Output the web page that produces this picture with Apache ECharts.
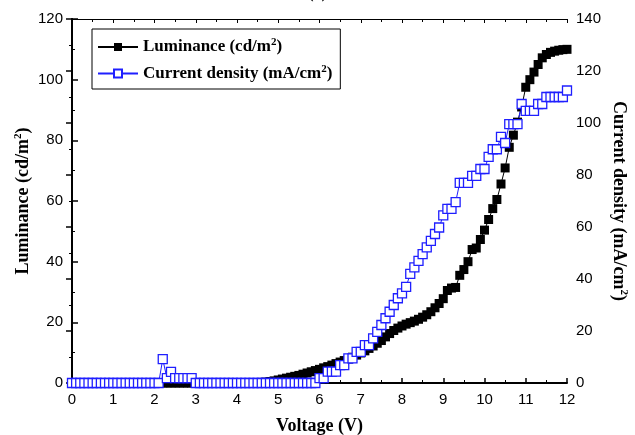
<!DOCTYPE html>
<html>
<head>
<meta charset="utf-8">
<script src="https://cdn.jsdelivr.net/npm/echarts@6/dist/echarts.min.js"></script>
<style>
  html, body { margin: 0; padding: 0; background: #fff; }
  #main { width: 635px; height: 435px; }
</style>
</head>
<body>
<div id="main"></div>
<script>
// voltage steps (V)
const voltage = [
  0.0, 0.1, 0.2, 0.3, 0.4, 0.5, 0.6, 0.7, 0.8, 0.9,
  1.0, 1.1, 1.2, 1.3, 1.4, 1.5, 1.6, 1.7, 1.8, 1.9,
  2.0, 2.1, 2.2, 2.3, 2.4, 2.5, 2.6, 2.7, 2.8, 2.9,
  3.0, 3.1, 3.2, 3.3, 3.4, 3.5, 3.6, 3.7, 3.8, 3.9,
  4.0, 4.1, 4.2, 4.3, 4.4, 4.5, 4.6, 4.7, 4.8, 4.9,
  5.0, 5.1, 5.2, 5.3, 5.4, 5.5, 5.6, 5.7, 5.8, 5.9,
  6.0, 6.1, 6.2, 6.3, 6.4, 6.5, 6.6, 6.7, 6.8, 6.9,
  7.0, 7.1, 7.2, 7.3, 7.4, 7.5, 7.6, 7.7, 7.8, 7.9,
  8.0, 8.1, 8.2, 8.3, 8.4, 8.5, 8.6, 8.7, 8.8, 8.9,
  9.0, 9.1, 9.2, 9.3, 9.4, 9.5, 9.6, 9.7, 9.8, 9.9,
  10.0, 10.1, 10.2, 10.3, 10.4, 10.5, 10.6, 10.7, 10.8, 10.9,
  11.0, 11.1, 11.2, 11.3, 11.4, 11.5, 11.6, 11.7, 11.8, 11.9,
  12.0
];

// luminance (cd/m2), left axis
const luminance = [
  0, 0, 0, 0, 0, 0, 0, 0, 0, 0,
  0, 0, 0, 0, 0, 0, 0, 0, 0, 0,
  0, 0, 0, 0, 0, 0, 0, 0, 0, 0,
  0, 0, 0, 0, 0, 0, 0, 0, 0, 0,
  0, 0, 0, 0, 0, 0.1, 0.2, 0.3, 0.5, 0.7,
  1.0, 1.3, 1.6, 1.9, 2.2, 2.5, 2.9, 3.3, 3.7, 4.1,
  4.5, 5.0, 5.4, 5.9, 6.4, 6.9, 7.4, 7.9, 8.5, 9.2,
  9.9, 10.6, 11.4, 12.2, 13.1, 14.0, 15.2, 16.3, 17.3, 18.1,
  18.8, 19.4, 19.9, 20.4, 21.0, 21.7, 22.5, 23.5, 24.8, 26.2,
  27.8, 30.5, 31.3, 31.5, 35.5, 37.4, 40.0, 44.0, 44.5, 47.3,
  50.4, 53.9, 57.5, 60.5, 65.6, 70.9, 77.7, 81.7, 86.0, 91.0,
  97.5, 100.0, 102.5, 105.0, 107.2, 108.3, 109.0, 109.4, 109.7, 109.9,
  110.0
];

// current density (mA/cm2), right axis
const currentDensity = [
  0, 0, 0, 0, 0, 0, 0, 0, 0, 0,
  0, 0, 0, 0, 0, 0, 0, 0, 0, 0,
  0, 0, 9.2, 1.9, 4.3, 1.9, 1.9, 1.9, 1.9, 1.9,
  0, 0, 0, 0, 0, 0, 0, 0, 0, 0,
  0, 0, 0, 0, 0, 0, 0, 0, 0, 0,
  0, 0, 0, 0, 0, 0, 0, 0, 0, 0,
  1.9, 1.9, 4.4, 4.4, 4.4, 6.9, 6.9, 9.5, 9.5, 12.0,
  12.0, 14.6, 14.6, 17.2, 19.7, 22.3, 24.9, 27.4, 30.0, 32.6,
  34.5, 37.0, 42.0, 44.5, 47.0, 49.6, 52.2, 54.7, 57.3, 59.8,
  64.5, 67.0, 67.0, 69.6, 77.0, 77.0, 77.0, 79.7, 79.7, 82.3,
  82.3, 87.0, 89.9, 89.9, 94.7, 92.3, 99.6, 99.6, 99.6, 107.3,
  104.7, 104.7, 104.7, 107.3, 107.3, 110.0, 110.0, 110.0, 110.0, 110.0,
  112.5
];

const xTicks = { min: 0, max: 12, interval: 1 };
const lumTicks = { min: 0, max: 120, interval: 20 };
const curTicks = { min: 0, max: 140, interval: 20 };

const serif = 'Liberation Serif';
const sans = 'Liberation Sans';
const blue = '#1f1fff';

const chart = echarts.init(document.getElementById('main'));

const supRich = {
  sup: { fontSize: 11, fontFamily: serif, fontWeight: 'bold', padding: [0, 0, 9, 0] }
};
const nameSup = {
  sup: { fontSize: 11, fontFamily: serif, fontWeight: 'bold', padding: [0, 0, 10, 0] }
};

const option = {
  animation: false,
  title: {
    text: '(a)',
    left: 'center',
    top: -19,
    textStyle: { fontFamily: serif, fontSize: 16, fontWeight: 'bold', color: '#000' }
  },
  grid: { left: 72, right: 68, top: 19, bottom: 52, outerBoundsMode: 'none' },
  legend: {
    left: 92,
    top: 29,
    orient: 'vertical',
    itemWidth: 40,
    itemHeight: 10,
    itemGap: 8,
    padding: [8, 8, 7, 5],
    borderColor: '#000',
    borderWidth: 1,
    data: ['Luminance', 'Current density'],
    formatter: function (name) {
      return name === 'Luminance' ? 'Luminance (cd/m{sup|2})' : 'Current density (mA/cm{sup|2})';
    },
    textStyle: { fontFamily: serif, fontSize: 17, fontWeight: 'bold', color: '#000', rich: supRich }
  },
  xAxis: [
    {
      type: 'value',
      min: xTicks.min, max: xTicks.max, interval: xTicks.interval,
      name: 'Voltage (V)',
      nameLocation: 'middle',
      nameGap: 34,
      nameTextStyle: { fontFamily: serif, fontSize: 18, fontWeight: 'bold', color: '#000' },
      axisLine: { show: true, lineStyle: { color: '#000', width: 2 } },
      axisTick: { inside: true, length: 5, lineStyle: { color: '#000', width: 1.5 } },
      minorTick: { show: true, splitNumber: 2, length: 3, lineStyle: { color: '#000' } },
      axisLabel: { fontFamily: sans, fontSize: 15, color: '#000', margin: 9 },
      splitLine: { show: false }
    },
    {
      type: 'value',
      position: 'top',
      min: xTicks.min, max: xTicks.max, interval: xTicks.interval,
      axisLine: { show: true, onZero: false, lineStyle: { color: '#000', width: 1 } },
      axisTick: { inside: true, length: 4, lineStyle: { color: '#000' } },
      minorTick: { show: true, splitNumber: 2, length: 3, lineStyle: { color: '#000' } },
      axisLabel: { show: false },
      splitLine: { show: false }
    }
  ],
  yAxis: [
    {
      type: 'value',
      min: lumTicks.min, max: lumTicks.max, interval: lumTicks.interval,
      name: 'Luminance (cd/m{sup|2})',
      nameLocation: 'middle',
      nameGap: 38,
      nameMoveOverlap: false,
      nameRotate: 90,
      nameTextStyle: { fontFamily: serif, fontSize: 18, fontWeight: 'bold', color: '#000', rich: nameSup },
      axisLine: { show: true, lineStyle: { color: '#000', width: 2 } },
      axisTick: { inside: true, length: 6, lineStyle: { color: '#000', width: 1.5 } },
      minorTick: { show: true, splitNumber: 2, length: 3, lineStyle: { color: '#000' } },
      axisLabel: { fontFamily: sans, fontSize: 15, color: '#000', margin: 9 },
      splitLine: { show: false }
    },
    {
      type: 'value',
      position: 'right',
      min: curTicks.min, max: curTicks.max, interval: curTicks.interval,
      name: 'Current density (mA/cm{sup|2})',
      nameLocation: 'middle',
      nameGap: 41,
      nameMoveOverlap: false,
      nameRotate: -90,
      nameTextStyle: { fontFamily: serif, fontSize: 18, fontWeight: 'bold', color: '#000', rich: nameSup },
      axisLine: { show: true, lineStyle: { color: '#000', width: 2 } },
      axisTick: { inside: true, length: 6, lineStyle: { color: '#000', width: 1.5 } },
      minorTick: { show: true, splitNumber: 2, length: 3, lineStyle: { color: '#000' } },
      axisLabel: { fontFamily: sans, fontSize: 15, color: '#000', margin: 9 },
      splitLine: { show: false }
    }
  ],
  series: [
    {
      name: 'Luminance',
      type: 'line',
      xAxisIndex: 0,
      yAxisIndex: 0,
      data: voltage.map((v, i) => [v, luminance[i]]),
      symbol: 'rect',
      symbolSize: 9,
      showAllSymbol: true,
      itemStyle: { color: '#000' },
      lineStyle: { color: '#000', width: 1 }
    },
    {
      name: 'Current density',
      type: 'line',
      xAxisIndex: 0,
      yAxisIndex: 1,
      data: voltage.map((v, i) => [v, currentDensity[i]]),
      symbol: 'rect',
      symbolSize: 9,
      showAllSymbol: true,
      itemStyle: { color: '#fff', borderColor: blue, borderWidth: 1.3 },
      lineStyle: { color: blue, width: 1 }
    }
  ]
};

chart.setOption(option);
</script>
</body>
</html>
